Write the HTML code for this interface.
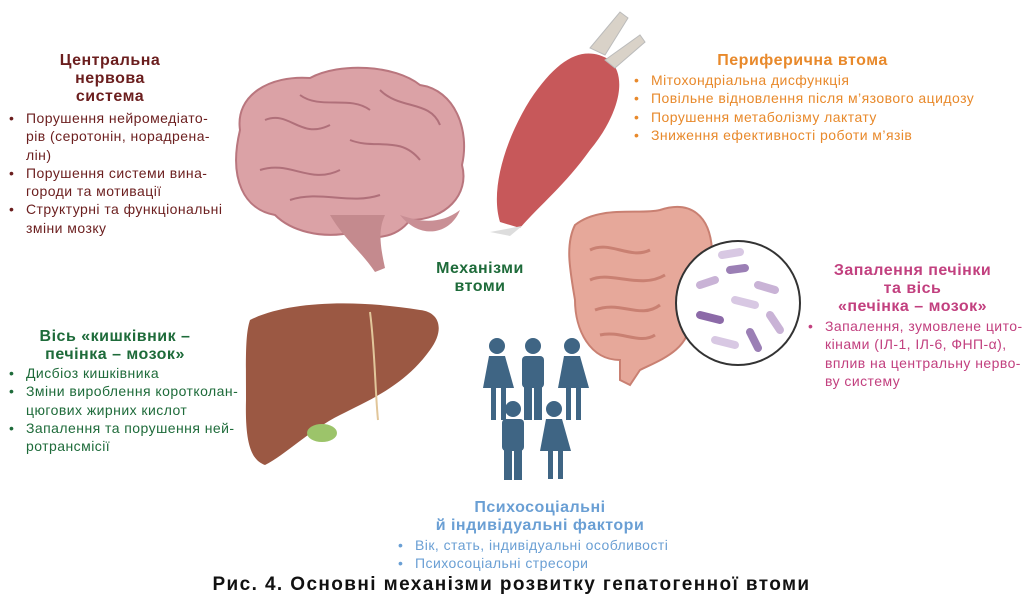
<!DOCTYPE html>
<html><head><meta charset="utf-8"><style>
body{margin:0;width:1023px;height:603px;background:#fff;position:relative;overflow:hidden;font-family:"Liberation Sans","DejaVu Sans",sans-serif}
.t{position:absolute;font-weight:bold;font-size:16px;letter-spacing:0.5px;line-height:18px;text-align:center}
ul{position:absolute;margin:0;padding:0;list-style:none;font-size:14px;letter-spacing:0.45px;line-height:18.3px;white-space:nowrap}
li{position:relative;padding-left:17px}
li:before{content:"•";position:absolute;left:0}
svg{position:absolute;left:0;top:0}
</style></head><body>
<svg width="1023" height="603">
<path d="M240 130 C235 95 270 75 310 78 C340 62 395 65 420 85 C455 90 470 130 462 165 C470 195 445 220 410 220 C395 240 370 240 355 232 C320 240 290 230 275 215 C245 210 228 180 240 130Z" fill="#dba2a6" stroke="#b9767e" stroke-width="2"/>
<path d="M330 215 C345 240 360 250 375 272 L385 268 C380 245 378 230 385 215Z" fill="#c48a8e"/>
<path d="M400 215 C420 240 450 235 460 210 C440 225 420 222 400 215Z" fill="#c98f95"/>
<path d="M265 120 C290 110 300 140 330 125 M300 95 C320 110 350 95 370 110 M380 90 C400 110 430 100 440 125 M260 170 C290 160 310 185 340 170 M350 140 C375 150 400 135 420 160 M290 200 C320 190 350 205 380 195" stroke="#b0707a" stroke-width="2" fill="none"/>
<path d="M500 222 C490 190 505 140 530 100 C560 55 585 45 610 60 C630 80 615 120 590 150 C565 185 540 205 520 228Z" fill="#c7585a"/>
<path d="M590 48 L620 12 L628 18 L605 55Z M605 60 L640 35 L645 42 L615 68Z" fill="#d9d2c8" stroke="#bbb" />
<path d="M490 232 L522 226 L510 236Z" fill="#ddd"/>
<path d="M575 225 C600 205 640 215 660 210 C690 200 710 215 712 250 C715 280 700 300 690 320 C690 350 660 360 640 370 L630 385 L620 380 L620 360 C590 360 575 330 575 300 C570 270 565 245 575 225Z" fill="#e6a89a" stroke="#c98072" stroke-width="2"/>
<path d="M590 250 C610 240 630 260 650 250 M590 280 C610 270 640 290 665 275 M595 310 C620 300 640 320 660 305 M600 335 C620 330 640 345 655 335" stroke="#c98072" stroke-width="3" fill="none"/>
<circle cx="738" cy="303" r="62" fill="#fff" stroke="#333" stroke-width="2"/>
<g stroke-linecap="round" stroke-width="8">
<line x1="700" y1="285" x2="715" y2="280" stroke="#c9b3d6"/>
<line x1="730" y1="270" x2="745" y2="268" stroke="#9b7fb5"/>
<line x1="758" y1="285" x2="775" y2="290" stroke="#c9b3d6"/>
<line x1="700" y1="315" x2="720" y2="320" stroke="#8c6aa8"/>
<line x1="735" y1="300" x2="755" y2="305" stroke="#d8c8e3"/>
<line x1="770" y1="315" x2="780" y2="330" stroke="#c9b3d6"/>
<line x1="715" y1="340" x2="735" y2="345" stroke="#d8c8e3"/>
<line x1="750" y1="332" x2="758" y2="348" stroke="#9b7fb5"/>
<line x1="722" y1="255" x2="740" y2="252" stroke="#d8c8e3"/>
</g>
<path d="M250 320 C290 300 360 300 420 310 C440 312 445 330 430 350 C405 385 370 400 340 415 C310 430 285 455 265 465 C250 460 245 440 246 400 C246 360 245 335 250 320Z" fill="#9b5843"/>
<path d="M370 312 C375 350 375 390 378 420" stroke="#e1c69a" stroke-width="2" fill="none"/>
<ellipse cx="322" cy="433" rx="15" ry="9" fill="#9cc46a"/>
<g fill="#3f6584">
<circle cx="497" cy="346" r="8"/><path d="M489 356 h16 l9 32 h-8 v32 h-5 v-32 h-5 v32 h-5 v-32 h-8Z"/>
<circle cx="533" cy="346" r="8"/><rect x="522" y="356" width="22" height="32" rx="4"/><rect x="524" y="380" width="8" height="40"/><rect x="534" y="380" width="8" height="40"/>
<circle cx="572" cy="346" r="8"/><path d="M564 356 h16 l9 32 h-8 v32 h-5 v-32 h-5 v32 h-5 v-32 h-8Z"/>
<circle cx="513" cy="409" r="8"/><rect x="502" y="419" width="22" height="32" rx="4"/><rect x="504" y="440" width="8" height="40"/><rect x="514" y="440" width="8" height="40"/>
<circle cx="554" cy="409" r="8"/><path d="M546 419 h16 l9 32 h-8 v28 h-5 v-28 h-5 v28 h-5 v-28 h-8Z"/>
</g>
</svg>

<div class="t" style="left:20px;top:52px;width:180px;color:#6b1e1e">Центральна<br>нервова<br>система</div>
<ul style="left:9px;top:109px;color:#6b1e1e"><li>Порушення нейромедіато-<br>рів (серотонін, норадрена-<br>лін)</li><li>Порушення системи вина-<br>городи та мотивації</li><li>Структурні та функціональні<br>зміни мозку</li></ul>

<div class="t" style="left:680px;top:52px;width:245px;color:#e8892b">Периферична втома</div>
<ul style="left:634px;top:71px;color:#e8892b"><li>Мітохондріальна дисфункція</li><li>Повільне відновлення після м’язового ацидозу</li><li>Порушення метаболізму лактату</li><li>Зниження ефективності роботи м’язів</li></ul>

<div class="t" style="left:795px;top:262px;width:235px;color:#c2407f">Запалення печінки<br>та вісь<br>«печінка – мозок»</div>
<ul style="left:808px;top:317px;color:#c2407f"><li>Запалення, зумовлене цито-<br>кінами (ІЛ-1, ІЛ-6, ФНП-α),<br>вплив на центральну нерво-<br>ву систему</li></ul>

<div class="t" style="left:415px;top:260px;width:130px;color:#1e6b3a">Механізми<br>втоми</div>

<div class="t" style="left:5px;top:328px;width:220px;color:#1e6b3a">Вісь «кишківник –<br>печінка – мозок»</div>
<ul style="left:9px;top:364px;color:#1e6b3a"><li>Дисбіоз кишківника</li><li>Зміни вироблення коротколан-<br>цюгових жирних кислот</li><li>Запалення та порушення ней-<br>ротрансмісії</li></ul>

<div class="t" style="left:390px;top:499px;width:300px;color:#6a9fd4">Психосоціальні<br>й індивідуальні фактори</div>
<ul style="left:398px;top:536px;color:#6a9fd4"><li>Вік, стать, індивідуальні особливості</li><li>Психосоціальні стресори</li></ul>

<div style="position:absolute;left:0;width:1023px;top:574px;text-align:center;font-weight:bold;font-size:19px;letter-spacing:1.4px;color:#111">Рис. 4. Основні механізми розвитку гепатогенної втоми</div>
</body></html>
